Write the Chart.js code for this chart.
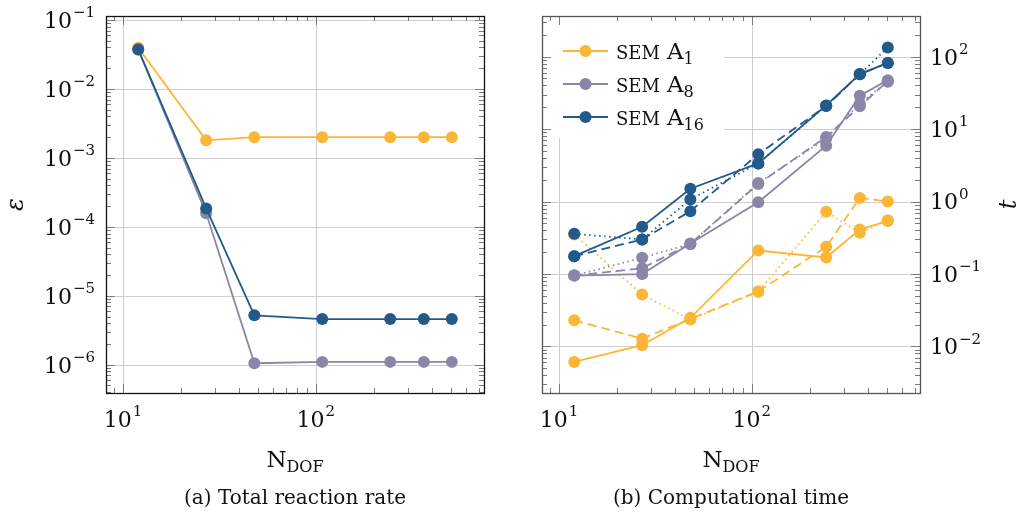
<!DOCTYPE html>
<html>
<head>
<meta charset="utf-8">
<script src="https://cdn.jsdelivr.net/npm/chart.js@4/dist/chart.umd.min.js"></script>
<style>
  html, body { margin: 0; padding: 0; background: #fff; }
  #wrap { position: relative; width: 1018px; height: 518px; }
  canvas { position: absolute; top: 0; }
  #c1 { left: 0; }
  #c2 { left: 509px; }
</style>
</head>
<body>
<div id="wrap">
  <canvas id="c1" width="509" height="518"></canvas>
  <canvas id="c2" width="509" height="518"></canvas>
</div>
<script>
// ---------------- data ----------------
const nDof = [12, 27, 48, 108, 243, 363, 507];
const seriesNames = ["A1", "A8", "A16"];

// (a) total reaction rate error
const errA1  = [0.0395, 0.0018, 0.002, 0.002, 0.002, 0.002, 0.002];
const errA8  = [0.037, 1.57e-4, 1.05e-6, 1.1e-6, 1.1e-6, 1.1e-6, 1.1e-6];
const errA16 = [0.0375, 1.85e-4, 5.2e-6, 4.6e-6, 4.6e-6, 4.6e-6, 4.6e-6];

// (b) computational time (solid / dashed / dotted variants)
const tA1Solid   = [0.0061, 0.0104, 0.0248, 0.211, 0.169, 0.41, 0.54];
const tA1Dashed  = [0.0229, 0.0128, 0.024, 0.0574, 0.237, 1.12, 1.0];
const tA1Dotted  = [0.35, 0.052, 0.0235, 0.057, 0.72, 0.37, 0.55];
const tA8Solid   = [0.095, 0.0995, 0.264, 0.98, 5.9, 28.8, 47.4];
const tA8Dashed  = [0.095, 0.12, 0.26, 1.75, 7.8, 20.7, 45.9];
const tA8Dotted  = [0.095, 0.167, 0.26, 1.8, 7.4, 22.6, 45];
const tA16Solid  = [0.176, 0.448, 1.5, 3.36, 21.2, 57.4, 81.9];
const tA16Dashed = [0.176, 0.3, 0.735, 4.5, 20.8, 57, 82];
const tA16Dotted = [0.358, 0.3, 1.07, 3.36, 21, 57, 134];

const xDecades = [1, 2];
const yDecadesA = [-1, -2, -3, -4, -5, -6];
const yDecadesB = [2, 1, 0, -1, -2];

// ---------------- styles ----------------
const COLORS = { A1: "#FBB635", A8: "#8B86A8", A16: "#235A8C" };
const FONT = '"DejaVu Serif", serif';
const DASHED = [9, 5];
const DOTTED = [1.5, 3.5];

function ds(data, color, dash, order) {
  return {
    data: data.map((v, i) => ({ x: nDof[i], y: v })),
    borderColor: color,
    backgroundColor: color,
    borderWidth: 1.8,
    borderDash: dash,
    pointRadius: 6,
    pointHoverRadius: 6,
    pointBorderWidth: 0,
    pointBackgroundColor: color,
    tension: 0,
    order: order,
    clip: false
  };
}

function supText(ctx, base, exp, x, yc, align, baseSize, expSize) {
  ctx.font = baseSize + "px " + FONT;
  const wB = ctx.measureText(base).width;
  ctx.font = expSize + "px " + FONT;
  const wE = ctx.measureText(exp).width;
  const tot = wB + wE + 1;
  let x0 = x;
  if (align === "right") x0 = x - tot;
  else if (align === "center") x0 = x - tot / 2;
  ctx.textAlign = "left";
  ctx.textBaseline = "alphabetic";
  ctx.fillStyle = "#111";
  ctx.font = baseSize + "px " + FONT;
  ctx.fillText(base, x0, yc + baseSize * 0.36);
  ctx.font = expSize + "px " + FONT;
  ctx.fillText(exp, x0 + wB + 1, yc - baseSize * 0.12);
}

function subText(ctx, base, sub, x, baseline, align, baseSize, subSize) {
  ctx.font = baseSize + "px " + FONT;
  const wB = ctx.measureText(base).width;
  ctx.font = subSize + "px " + FONT;
  const wS = ctx.measureText(sub).width;
  const tot = wB + wS;
  let x0 = x;
  if (align === "center") x0 = x - tot / 2;
  ctx.textAlign = "left";
  ctx.textBaseline = "alphabetic";
  ctx.fillStyle = "#111";
  ctx.font = baseSize + "px " + FONT;
  ctx.fillText(base, x0, baseline);
  ctx.font = subSize + "px " + FONT;
  ctx.fillText(sub, x0 + wB, baseline + subSize * 0.33);
}

function expStr(e) { return e < 0 ? "\u2212" + (-e) : String(e); }

function logTicks(min, max) {
  const out = [];
  for (let d = Math.floor(Math.log10(min)) - 1; d <= Math.ceil(Math.log10(max)); d++) {
    for (let k = 1; k <= 9; k++) {
      const v = k * Math.pow(10, d);
      if (v >= min * 0.9999 && v <= max * 1.0001) out.push({ v, major: k === 1 });
    }
  }
  return out;
}

function makeFramePlugin(cfg) {
  return {
    id: "frame" + cfg.id,
    beforeDatasetsDraw(chart) {
      const { ctx, chartArea: a, scales } = chart;
      const xs = scales.x, ys = scales.y;
      ctx.save();
      ctx.strokeStyle = "#cfcfcf";
      ctx.lineWidth = 1;
      ctx.setLineDash([]);
      cfg.xDecades.forEach(d => {
        const px = Math.round(xs.getPixelForValue(Math.pow(10, d))) + 0.5;
        ctx.beginPath(); ctx.moveTo(px, a.top); ctx.lineTo(px, a.bottom); ctx.stroke();
      });
      cfg.yDecades.forEach(d => {
        const py = Math.round(ys.getPixelForValue(Math.pow(10, d))) + 0.5;
        ctx.beginPath(); ctx.moveTo(a.left, py); ctx.lineTo(a.right, py); ctx.stroke();
      });
      if (cfg.legend) {
        const L = cfg.legend;
        ctx.fillStyle = "#fff";
        ctx.fillRect(L.boxX, L.boxY, L.boxW, L.boxH);
      }
      ctx.restore();
    },
    afterDatasetsDraw(chart) {
      const { ctx, chartArea: a, scales } = chart;
      const xs = scales.x, ys = scales.y;
      ctx.save();
      ctx.setLineDash([]);
      // ticks
      ctx.strokeStyle = "#7a7a7a";
      ctx.lineWidth = 1;
      logTicks(xs.min, xs.max).forEach(t => {
        const px = Math.round(xs.getPixelForValue(t.v)) + 0.5;
        const len = t.major ? 9 : 5;
        ctx.beginPath();
        ctx.moveTo(px, a.bottom); ctx.lineTo(px, a.bottom - len);
        ctx.moveTo(px, a.top); ctx.lineTo(px, a.top + len);
        ctx.stroke();
      });
      logTicks(ys.min, ys.max).forEach(t => {
        const py = Math.round(ys.getPixelForValue(t.v)) + 0.5;
        const len = t.major ? 9 : 5;
        ctx.beginPath();
        ctx.moveTo(a.left, py); ctx.lineTo(a.left + len, py);
        ctx.moveTo(a.right, py); ctx.lineTo(a.right - len, py);
        ctx.stroke();
      });
      // frame
      ctx.strokeStyle = cfg.frameColor;
      ctx.lineWidth = 1.3;
      ctx.strokeRect(Math.round(a.left) + 0.5, Math.round(a.top) + 0.5,
                     Math.round(a.right - a.left), Math.round(a.bottom - a.top));
      // x tick labels
      cfg.xDecades.forEach(d => {
        const px = xs.getPixelForValue(Math.pow(10, d));
        supText(ctx, "10", expStr(d), px, 419, "center", 22, 15);
      });
      // y tick labels
      cfg.yDecades.forEach(d => {
        const py = ys.getPixelForValue(Math.pow(10, d));
        if (cfg.ySide === "left") supText(ctx, "10", expStr(d), a.left - 11, py, "right", 22, 15);
        else supText(ctx, "10", expStr(d), a.right + 10, py, "left", 22, 15);
      });
      // x title
      const cx = (a.left + a.right) / 2;
      subText(ctx, "N", "DOF", cx, 467, "center", 23, 16);
      // caption
      ctx.font = "20px " + FONT;
      ctx.fillStyle = "#111";
      ctx.textAlign = "center";
      ctx.textBaseline = "alphabetic";
      ctx.fillText(cfg.caption, cx, 504);
      // y title
      ctx.save();
      ctx.translate(cfg.yTitleX, (a.top + a.bottom) / 2);
      ctx.rotate(-Math.PI / 2);
      ctx.font = "italic 24px " + FONT;
      ctx.textAlign = "center";
      ctx.textBaseline = "middle";
      ctx.fillText(cfg.yTitle, 0, 0);
      ctx.restore();
      // legend
      if (cfg.legend) {
        const L = cfg.legend;
        L.items.forEach((it, i) => {
          const y = L.rows[i];
          ctx.strokeStyle = it.color;
          ctx.lineWidth = 1.8;
          ctx.beginPath(); ctx.moveTo(L.lineX0, y); ctx.lineTo(L.lineX1, y); ctx.stroke();
          ctx.fillStyle = it.color;
          ctx.beginPath(); ctx.arc((L.lineX0 + L.lineX1) / 2, y, 6, 0, Math.PI * 2); ctx.fill();
          ctx.fillStyle = "#111";
          ctx.textAlign = "left";
          ctx.textBaseline = "alphabetic";
          ctx.font = "18px " + FONT;
          ctx.fillText("SEM", L.textX, y + 8);
          const w = ctx.measureText("SEM").width + 7;
          subText(ctx, "A", it.sub, L.textX + w, y + 8, "left", 23, 16);
        });
      }
      ctx.restore();
    }
  };
}

const xScale = {
  type: "logarithmic",
  display: false,
  min: Math.pow(10, 0.912),
  max: Math.pow(10, 2.872)
};

// ---------------- chart (a) ----------------
new Chart(document.getElementById("c1"), {
  type: "line",
  data: {
    datasets: [
      ds(errA1, COLORS.A1, [], 3),
      ds(errA8, COLORS.A8, [], 2),
      ds(errA16, COLORS.A16, [], 1)
    ]
  },
  options: {
    responsive: false,
    animation: false,
    events: [],
    layout: { padding: { left: 106, top: 16, right: 25, bottom: 125 } },
    plugins: { legend: { display: false }, tooltip: { enabled: false } },
    scales: {
      x: xScale,
      y: { type: "logarithmic", display: false, min: Math.pow(10, -6.41), max: Math.pow(10, -0.942) }
    }
  },
  plugins: [makeFramePlugin({
    id: "a", xDecades, yDecades: yDecadesA, ySide: "left", frameColor: "#111",
    caption: "(a) Total reaction rate", yTitle: "\u03B5", yTitleX: 17
  })]
});

// ---------------- chart (b) ----------------
new Chart(document.getElementById("c2"), {
  type: "line",
  data: {
    datasets: [
      ds(tA1Solid, COLORS.A1, [], 9),
      ds(tA1Dashed, COLORS.A1, DASHED, 8),
      ds(tA1Dotted, COLORS.A1, DOTTED, 7),
      ds(tA8Solid, COLORS.A8, [], 6),
      ds(tA8Dashed, COLORS.A8, DASHED, 5),
      ds(tA8Dotted, COLORS.A8, DOTTED, 4),
      ds(tA16Solid, COLORS.A16, [], 3),
      ds(tA16Dashed, COLORS.A16, DASHED, 2),
      ds(tA16Dotted, COLORS.A16, DOTTED, 1)
    ]
  },
  options: {
    responsive: false,
    animation: false,
    events: [],
    layout: { padding: { left: 33, top: 16, right: 98, bottom: 125 } },
    plugins: { legend: { display: false }, tooltip: { enabled: false } },
    scales: {
      x: xScale,
      y: { type: "logarithmic", display: false, min: Math.pow(10, -2.643), max: Math.pow(10, 2.561) }
    }
  },
  plugins: [makeFramePlugin({
    id: "b", xDecades, yDecades: yDecadesB, ySide: "right", frameColor: "#555",
    caption: "(b) Computational time", yTitle: "t", yTitleX: 501,
    legend: {
      boxX: 36, boxY: 20, boxW: 179, boxH: 118,
      lineX0: 54, lineX1: 99, textX: 107,
      rows: [51, 84, 117],
      items: seriesNames.map(n => ({ color: COLORS[n], sub: n.slice(1) }))
    }
  })]
});
</script>
</body>
</html>
